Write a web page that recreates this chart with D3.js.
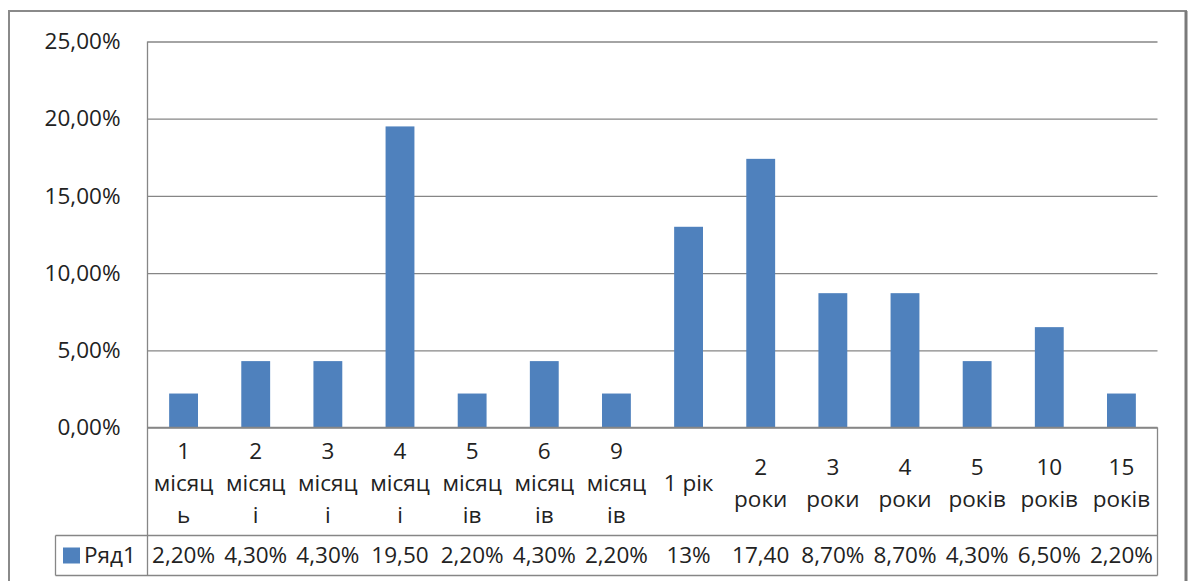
<!DOCTYPE html>
<html>
<head>
<meta charset="utf-8">
<script src="https://cdn.jsdelivr.net/npm/d3@7"></script>
<style>
  html, body { margin: 0; padding: 0; background: #fff; }
  svg { display: block; font-family: "Open Sans", Lato, sans-serif; }
</style>
</head>
<body>
<svg id="chart" width="1193" height="581"></svg>
<script>
// Category labels, already broken into lines as they appear in the table
const categories = [
  ["1", "місяц", "ь"],
  ["2", "місяц", "і"],
  ["3", "місяц", "і"],
  ["4", "місяц", "і"],
  ["5", "місяц", "ів"],
  ["6", "місяц", "ів"],
  ["9", "місяц", "ів"],
  ["1 рік"],
  ["2", "роки"],
  ["3", "роки"],
  ["4", "роки"],
  ["5", "років"],
  ["10", "років"],
  ["15", "років"]
];

// Series values, percent
const seriesName = "Ряд1";
const values = [2.2, 4.3, 4.3, 19.5, 2.2, 4.3, 2.2, 13, 17.4, 8.7, 8.7, 4.3, 6.5, 2.2];

// Text shown in the data-table row (cells too narrow for some labels)
const tableLabels = ["2,20%", "4,30%", "4,30%", "19,50", "2,20%", "4,30%", "2,20%",
                     "13%", "17,40", "8,70%", "8,70%", "4,30%", "6,50%", "2,20%"];

// Value axis ticks
const yTicks = [0, 5, 10, 15, 20, 25];
const yTickLabels = ["0,00%", "5,00%", "10,00%", "15,00%", "20,00%", "25,00%"];

const svg = d3.select("#chart");
const barColor = "#4f81bd";
const lineColor = "#868686";
const textColor = "#222";
const fontFamily = "'Open Sans', Lato, sans-serif";
const fontSize = 22.5;

const plot = { left: 147.5, right: 1157.5, top: 41.5, bottom: 427.5 };
const table = { legendLeft: 55.5, rowTop: 535.5, bottom: 575.5 };

const x = d3.scaleBand()
  .domain(d3.range(categories.length))
  .range([plot.left, plot.right])
  .paddingInner(0.6)
  .paddingOuter(0.3);

const xCell = d3.scaleBand()
  .domain(d3.range(categories.length))
  .range([plot.left, plot.right]);

const y = d3.scaleLinear().domain([0, 25]).range([plot.bottom, plot.top]);

// Outer chart frame
svg.append("rect")
  .attr("x", 9).attr("y", 11)
  .attr("width", 1177).attr("height", 600)
  .attr("fill", "none").attr("stroke", "#8a8a8a").attr("stroke-width", 2);
svg.append("line")
  .attr("x1", 1186).attr("x2", 1186).attr("y1", 11).attr("y2", 581)
  .attr("stroke", "#7a7a7a").attr("stroke-width", 3);

// Gridlines and value axis labels
const yAxis = d3.axisLeft(y)
  .tickValues(yTicks)
  .tickSize(-(plot.right - plot.left))
  .tickPadding(27)
  .tickFormat((d, i) => yTickLabels[i]);

const gy = svg.append("g")
  .attr("transform", `translate(${plot.left},0)`)
  .call(yAxis);
gy.select(".domain").remove();
gy.selectAll(".tick line").attr("stroke", lineColor).attr("stroke-width", 1.3);
gy.selectAll(".tick text")
  .attr("fill", textColor)
  .style("font-size", fontSize + "px")
  .style("font-family", fontFamily);

// Bars
svg.append("g").selectAll("rect")
  .data(values)
  .join("rect")
  .attr("x", (d, i) => x(i))
  .attr("width", x.bandwidth())
  .attr("y", d => y(d))
  .attr("height", d => y(0) - y(d))
  .attr("fill", barColor);

// Data table lines
const lines = svg.append("g").attr("stroke", lineColor).attr("stroke-width", 1.3);
lines.append("line").attr("x1", plot.left).attr("x2", plot.left).attr("y1", plot.top).attr("y2", table.bottom);
lines.append("line").attr("x1", plot.left).attr("x2", plot.right).attr("y1", plot.bottom).attr("y2", plot.bottom);
lines.append("line").attr("x1", plot.right).attr("x2", plot.right).attr("y1", plot.bottom).attr("y2", table.bottom);
lines.append("line").attr("x1", table.legendLeft).attr("x2", plot.right).attr("y1", table.rowTop).attr("y2", table.rowTop);
lines.append("line").attr("x1", table.legendLeft).attr("x2", plot.right).attr("y1", table.bottom).attr("y2", table.bottom);
lines.append("line").attr("x1", table.legendLeft).attr("x2", table.legendLeft).attr("y1", table.rowTop).attr("y2", table.bottom);

// Category labels, vertically centred in the header row
const lineGap = 32;
const headerMid = (plot.bottom + table.rowTop) / 2 + 2;
const catG = svg.append("g")
  .attr("text-anchor", "middle")
  .attr("fill", textColor)
  .style("font-size", fontSize + "px")
  .style("font-family", fontFamily);
categories.forEach((lbls, i) => {
  const cx = xCell(i) + xCell.bandwidth() / 2;
  const y0 = headerMid - (lbls.length - 1) * lineGap / 2;
  lbls.forEach((t, j) => {
    catG.append("text")
      .attr("x", cx)
      .attr("y", y0 + j * lineGap)
      .attr("dy", "0.35em")
      .text(t);
  });
});

// Series row: legend key and values
const rowMid = (table.rowTop + table.bottom) / 2;
svg.append("rect")
  .attr("x", 63).attr("y", rowMid - 8)
  .attr("width", 17).attr("height", 16)
  .attr("fill", barColor);
svg.append("text")
  .attr("x", 84).attr("y", rowMid).attr("dy", "0.35em")
  .attr("fill", textColor)
  .style("font-size", fontSize + "px")
  .style("font-family", fontFamily)
  .text(seriesName);

svg.append("g")
  .attr("text-anchor", "middle")
  .attr("fill", textColor)
  .style("font-size", fontSize + "px")
  .style("font-family", fontFamily)
  .selectAll("text")
  .data(tableLabels)
  .join("text")
  .attr("x", (d, i) => xCell(i) + xCell.bandwidth() / 2)
  .attr("y", rowMid)
  .attr("dy", "0.35em")
  .text(d => d);
</script>
</body>
</html>
